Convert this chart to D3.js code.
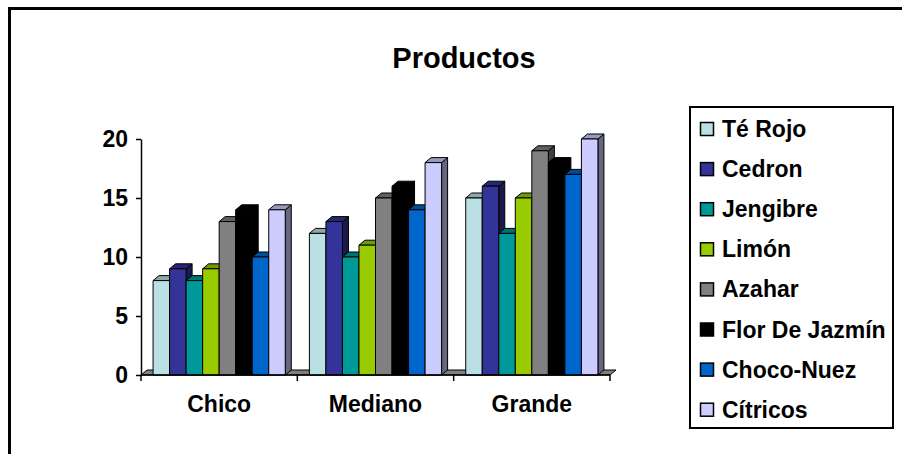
<!DOCTYPE html>
<html><head><meta charset="utf-8">
<script src="https://cdn.jsdelivr.net/npm/d3@7/dist/d3.min.js"></script>
<style>body{margin:0;background:#fff}svg{display:block;font-family:"Liberation Sans",Arial,sans-serif}</style>
</head><body><svg id="c" width="902" height="454"></svg>
<script>
const categories = ["Chico", "Mediano", "Grande"];
const series = ["Té Rojo", "Cedron", "Jengibre", "Limón", "Azahar", "Flor De Jazmín", "Choco-Nuez", "Cítricos"];
const colors = ["#BBE0E3", "#333399", "#009999", "#99CC00", "#808080", "#000000", "#0066CC", "#CCCCFF"];
const teRojo = [8, 12, 15];
const cedron = [9, 13, 16];
const jengibre = [8, 10, 12];
const limon = [9, 11, 15];
const azahar = [13, 15, 19];
const florDeJazmin = [14, 16, 18];
const chocoNuez = [10, 14, 17];
const citricos = [14, 18, 20];
const yTicks = [0, 5, 10, 15, 20];
const title = "Productos";

const values = [teRojo, cedron, jengibre, limon, azahar, florDeJazmin, chocoNuez, citricos];
const svg = d3.select("#c");

// outer border
svg.append("rect").attr("x", 9.5).attr("y", 8.5).attr("width", 1000).attr("height", 1000)
  .attr("fill", "none").attr("stroke", "#000").attr("stroke-width", 3);

svg.append("text").attr("x", 464).attr("y", 68).attr("text-anchor", "middle")
  .attr("font-size", 29).attr("font-weight", "bold").text(title);

const y = d3.scaleLinear().domain([0, 20]).range([375, 139]);
const x0 = d3.scaleBand().domain(categories).range([141, 610]).padding(0);
const x1 = d3.scaleBand().domain(series).range([0, x0.bandwidth()]).paddingInner(0).paddingOuter(0.73);
const dx = 6, dy = -5;
const y0 = y(0);

function shade(c, k) { const r = d3.rgb(c); return d3.rgb(r.r * k, r.g * k, r.b * k).formatHex(); }

// floor
svg.append("path")
  .attr("d", `M${x0.range()[0]},${y0}L${x0.range()[1]},${y0}L${x0.range()[1] + dx},${y0 + dy}L${x0.range()[0] + dx},${y0 + dy}Z`)
  .attr("fill", "#808080").attr("stroke", "#000").attr("stroke-width", 1);

// bars
const g = svg.append("g").attr("stroke", "#000").attr("stroke-width", 1).attr("stroke-linejoin", "round");
categories.forEach((cat, ci) => {
  series.forEach((s, si) => {
    const v = values[si][ci];
    const bx = x0(cat) + x1(s), w = x1.bandwidth(), by = y(v);
    const col = colors[si];
    g.append("path").attr("d", `M${bx + w},${by}L${bx + w + dx},${by + dy}L${bx + w + dx},${y0 + dy}L${bx + w},${y0}Z`)
      .attr("fill", shade(col, 0.5));
    g.append("path").attr("d", `M${bx},${by}L${bx + dx},${by + dy}L${bx + w + dx},${by + dy}L${bx + w},${by}Z`)
      .attr("fill", shade(col, 0.75));
    g.append("rect").attr("x", bx).attr("y", by).attr("width", w).attr("height", y0 - by).attr("fill", col);
  });
});

// y axis
const ya = svg.append("g").attr("transform", "translate(141,0)")
  .call(d3.axisLeft(y).tickValues(yTicks).tickSize(5).tickPadding(8).tickSizeOuter(0));
ya.select(".domain").attr("stroke", "#000").attr("stroke-width", 1.5);
ya.selectAll(".tick line").attr("stroke", "#000").attr("stroke-width", 1.5);
ya.selectAll("text").attr("font-size", 23).attr("font-weight", "bold").attr("fill", "#000")
  .attr("font-family", "Liberation Sans, Arial, sans-serif");

// x axis line + ticks at boundaries
const xa = svg.append("g");
xa.append("line").attr("x1", 141).attr("x2", 610).attr("y1", y0).attr("y2", y0).attr("stroke", "#000").attr("stroke-width", 1.5);
const bounds = categories.map(c => x0(c)).concat([x0.range()[1]]);
xa.selectAll(".bt").data(bounds).join("line").attr("x1", d => d).attr("x2", d => d)
  .attr("y1", y0).attr("y2", y0 + 6).attr("stroke", "#000").attr("stroke-width", 1.5);
xa.selectAll(".lbl").data(categories).join("text")
  .attr("x", d => x0(d) + x0.bandwidth() / 2).attr("y", 412).attr("text-anchor", "middle")
  .attr("font-size", 23).attr("font-weight", "bold").text(d => d);

// legend
svg.append("rect").attr("x", 690).attr("y", 107).attr("width", 203).attr("height", 321)
  .attr("fill", "#fff").attr("stroke", "#000").attr("stroke-width", 2);
const lg = svg.append("g");
series.forEach((s, i) => {
  const cy = 129 + i * 40.1;
  lg.append("rect").attr("x", 700.5).attr("y", cy - 6.5).attr("width", 13).attr("height", 13)
    .attr("fill", colors[i]).attr("stroke", "#000").attr("stroke-width", 1.5);
  lg.append("text").attr("x", 722).attr("y", cy + 8).attr("font-size", 23).attr("font-weight", "bold").text(s);
});
</script></body></html>
